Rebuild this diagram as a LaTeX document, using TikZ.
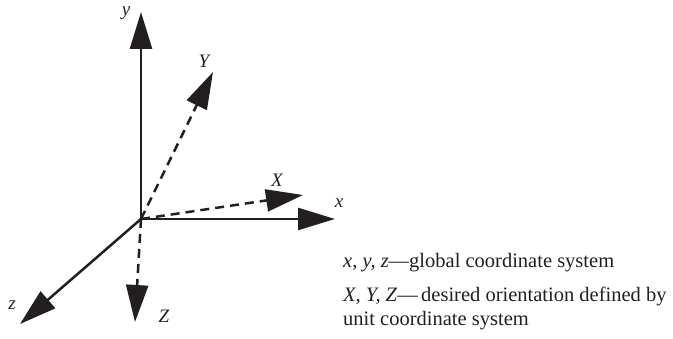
\documentclass[tikz,border=0pt]{standalone}
\usepackage{fontspec}
\setmainfont{Liberation Serif}
\usetikzlibrary{arrows.meta}
\definecolor{ink}{HTML}{231F20}
\tikzset{
  axis/.style={draw=ink, line width=2.5pt, -{Triangle[length=37pt,width=22pt]}},
  unitaxis/.style={axis, dash pattern=on 9pt off 6pt},
  lbl/.style={text=ink, font=\fontsize{19}{22}\selectfont\itshape, inner sep=0pt},
  note/.style={text=ink, font=\fontsize{20.5}{22}\selectfont, inner sep=0pt, anchor=base west}
}
\begin{document}
\begin{tikzpicture}[x=1pt, y=-1pt]
    \useasboundingbox (0,0) rectangle (673,339);
    % global axes
    \coordinate (O) at (141,219);
    \coordinate (xt) at (335,219);
    \coordinate (yt) at (141,12);
    \coordinate (zt) at (20,324);
    \draw[axis] (O) -- (xt);
    \draw[axis] (O) -- (yt);
    \draw[axis] (O) -- (zt);
    % desired orientation
    \coordinate (Xt) at (303,195);
    \coordinate (Yt) at (213,72);
    \coordinate (Zt) at (135,322);
    \draw[unitaxis] (O) -- (Xt);
    \draw[unitaxis] (O) -- (Yt);
    \draw[unitaxis] (O) -- (Zt);
    % labels
    \node[lbl] (xl) at (339,203) {x};
    \node[lbl] (yl) at (126,13) {y};
    \node[lbl] (zl) at (12,305) {z};
    \node[lbl] (Xl) at (277,180) {X};
    \node[lbl] (Yl) at (204,61) {Y};
    \node[lbl] (Zl) at (164,316) {Z};
    % legend
    \node[note] (glob) at (343,268) {\textit{x, y, z}---global coordinate system};
    \node[note] (unit) at (343,302) {\textit{X, Y, Z}---\,desired orientation defined by};
    \node[note] (unit2) at (343,326) {unit coordinate system};
\end{tikzpicture}
\end{document}
